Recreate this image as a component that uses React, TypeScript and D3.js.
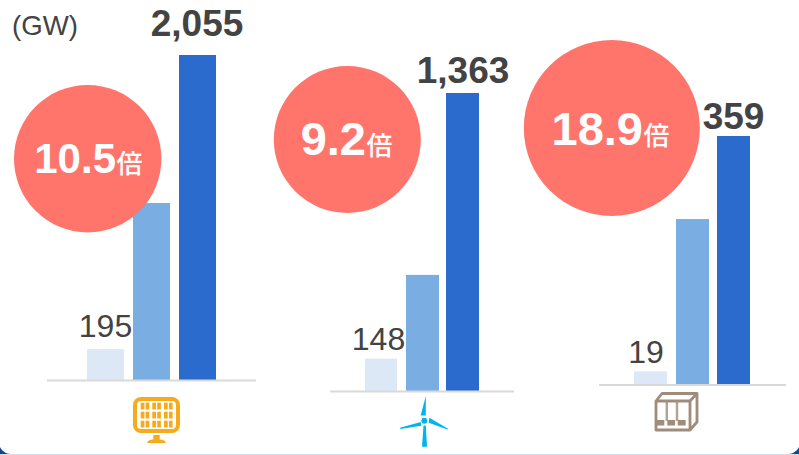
import React from "react";
import * as d3 from "d3";

const WIDTH = 799;
const HEIGHT = 455;

const solarValues = [195, 1119, 2055];
const windValues = [148, 531, 1363];
const storageValues = [19, 239, 359];
const seriesColors = ["#dce8f6", "#7aade2", "#2a6bcd"];
const multipliers = ["10.5", "9.2", "18.9"];
const multiplierSuffix = "倍";
const unitLabel = "(GW)";

const BODY_FONT = "'Liberation Sans', Arial, sans-serif";
const CJK_FONT = "'Noto Sans CJK JP', sans-serif";
const TEXT = "#434343";

type Panel = {
  values: number[];
  base: number;
  top: number;
  barStart: number[];
  barWidth: number[];
  axis: [number, number];
  firstLabel: { x: number; y: number };
  lastLabel: { x: number; y: number; size: number };
  bubble: { cx: number; cy: number; r: number; numSize: number; numEnd: number; sufX: number; y: number };
};

const panels: Panel[] = [
  {
    values: solarValues,
    base: 380,
    top: 55,
    barStart: [87, 133, 179],
    barWidth: [37, 37, 37],
    axis: [47, 256],
    firstLabel: { x: 105.5, y: 337 },
    lastLabel: { x: 197, y: 36, size: 37 },
    bubble: { cx: 87.7, cy: 158.7, r: 73.7, numSize: 42, numEnd: 116, sufX: 116.5, y: 172.7 },
  },
  {
    values: windValues,
    base: 391,
    top: 93,
    barStart: [365, 406, 446],
    barWidth: [32, 33, 33],
    axis: [330, 514],
    firstLabel: { x: 378.5, y: 350 },
    lastLabel: { x: 463, y: 83, size: 37 },
    bubble: { cx: 347.3, cy: 139.5, r: 73.5, numSize: 47, numEnd: 366, sufX: 366.5, y: 155 },
  },
  {
    values: storageValues,
    base: 384.5,
    top: 136,
    barStart: [634, 676, 717],
    barWidth: [33, 33, 33],
    axis: [599, 786],
    firstLabel: { x: 646, y: 363 },
    lastLabel: { x: 733.5, y: 129, size: 37 },
    bubble: { cx: 611.8, cy: 128, r: 88, numSize: 47, numEnd: 643, sufX: 643.5, y: 145 },
  },
];

function PanelBars({ panel }: { panel: Panel }) {
  const { values, base, top } = panel;
  const y = d3.scaleLinear().domain([0, d3.max(values) as number]).range([base, top]);
  return (
    <g>
      {values.map((v, i) => (
        <rect
          key={i}
          x={panel.barStart[i]}
          y={y(v)}
          width={panel.barWidth[i]}
          height={base - y(v)}
          fill={seriesColors[i]}
        />
      ))}
      <line x1={panel.axis[0]} x2={panel.axis[1]} y1={base + 0.5} y2={base + 0.5} stroke="#d9d9d9" strokeWidth={2} />
    </g>
  );
}

function ValueLabels({ panel }: { panel: Panel }) {
  const fmt = d3.format(",");
  const n = panel.values.length;
  return (
    <g>
      <text
        x={panel.firstLabel.x}
        y={panel.firstLabel.y}
        textAnchor="middle"
        fontFamily={BODY_FONT}
        fontSize={32}
        fill={TEXT}
      >
        {fmt(panel.values[0])}
      </text>
      <text
        x={panel.lastLabel.x}
        y={panel.lastLabel.y}
        textAnchor="middle"
        fontFamily={BODY_FONT}
        fontWeight={700}
        fontSize={panel.lastLabel.size}
        fill={TEXT}
      >
        {fmt(panel.values[n - 1])}
      </text>
    </g>
  );
}

function Bubble({ panel, label }: { panel: Panel; label: string }) {
  const b = panel.bubble;
  return (
    <g>
      <circle cx={b.cx} cy={b.cy} r={b.r} fill="#ff756c" />
      <text x={b.numEnd} y={b.y} textAnchor="end" fontFamily={BODY_FONT} fontWeight={700} fontSize={b.numSize} fill="#fff">
        {label}
      </text>
      <text x={b.sufX} y={b.y} textAnchor="start" fontFamily={CJK_FONT} fontWeight={500} fontSize={26} fill="#fff">
        {multiplierSuffix}
      </text>
    </g>
  );
}

function SolarIcon() {
  const color = "#f7ab1b";
  const groups = [140.7, 152.3, 164];
  const rows = [402.7, 411.7, 420.7];
  return (
    <g fill={color}>
      <rect x={135} y={399} width={43} height={32} rx={6} fill="none" stroke={color} strokeWidth={4} />
      {rows.map((ry) =>
        groups.map((gx) => (
          <g key={`${ry}-${gx}`}>
            <rect x={gx} y={ry} width={3.7} height={6.8} />
            <rect x={gx + 4.9} y={ry} width={3.7} height={6.8} />
          </g>
        ))
      )}
      <rect x={153.3} y={435} width={6.4} height={6} />
      <path d="M147 443 Q148 439.5 153 439.5 H160 Q165 439.5 166 443 Z" />
    </g>
  );
}

function TurbineIcon() {
  const color = "#00b4ec";
  return (
    <g transform="translate(380,380)" fill={color}>
      <circle cx={44.3} cy={40.7} r={3} />
      <path d="M45.8 16 L45.8 35.5 H40.7 Z" />
      <path d="M40.7 42 L41.3 45.7 L20.5 49 L20 47.8 Z" />
      <path d="M49.3 37.7 L48.7 42.7 L67.5 49.5 L68 48.8 Z" />
      <path d="M43.5 45.5 H45.8 L47 66.7 H42 Z" />
    </g>
  );
}

function StorageIcon() {
  const color = "#a08c7b";
  return (
    <g transform="translate(620,360)" fill="none" stroke={color}>
      <path
        d="M36 41 L42 33.5 H77 V62 L70 70 H36 Z M36 41 H70 V70 M70 41 L77 33.5"
        strokeWidth={2.8}
        strokeLinejoin="round"
      />
      <path d="M46.8 41 V61 M57 41 V61" strokeWidth={2.4} opacity={0.8} />
      <path d="M36.7 60 H44.3 V65.5 H36.7 Z M47.3 60 H55 V65.5 H47.3 Z M57.7 60 H65.7 V65.5 H57.7 Z" fill={color} stroke="none" />
    </g>
  );
}

export default function App() {
  return (
    <svg
      width={WIDTH}
      height={HEIGHT}
      viewBox={`0 0 ${WIDTH} ${HEIGHT}`}
      style={{ position: "absolute", left: 0, top: 0, display: "block" }}
    >
      <rect width={WIDTH} height={HEIGHT} fill="#0d4a8c" />
      <rect x={0} y={454} width={WIDTH} height={1} fill="#d3dff0" />
      <rect x={-1} y={-30} width={WIDTH + 2} height={484} rx={12} fill="#fff" />

      {panels.map((p, i) => (
        <PanelBars key={i} panel={p} />
      ))}
      {panels.map((p, i) => (
        <ValueLabels key={i} panel={p} />
      ))}
      {panels.map((p, i) => (
        <Bubble key={i} panel={p} label={multipliers[i]} />
      ))}

      <text x={12} y={35} fontFamily={BODY_FONT} fontSize={27.6} fill={TEXT}>
        {unitLabel}
      </text>

      <SolarIcon />
      <TurbineIcon />
      <StorageIcon />
    </svg>
  );
}
